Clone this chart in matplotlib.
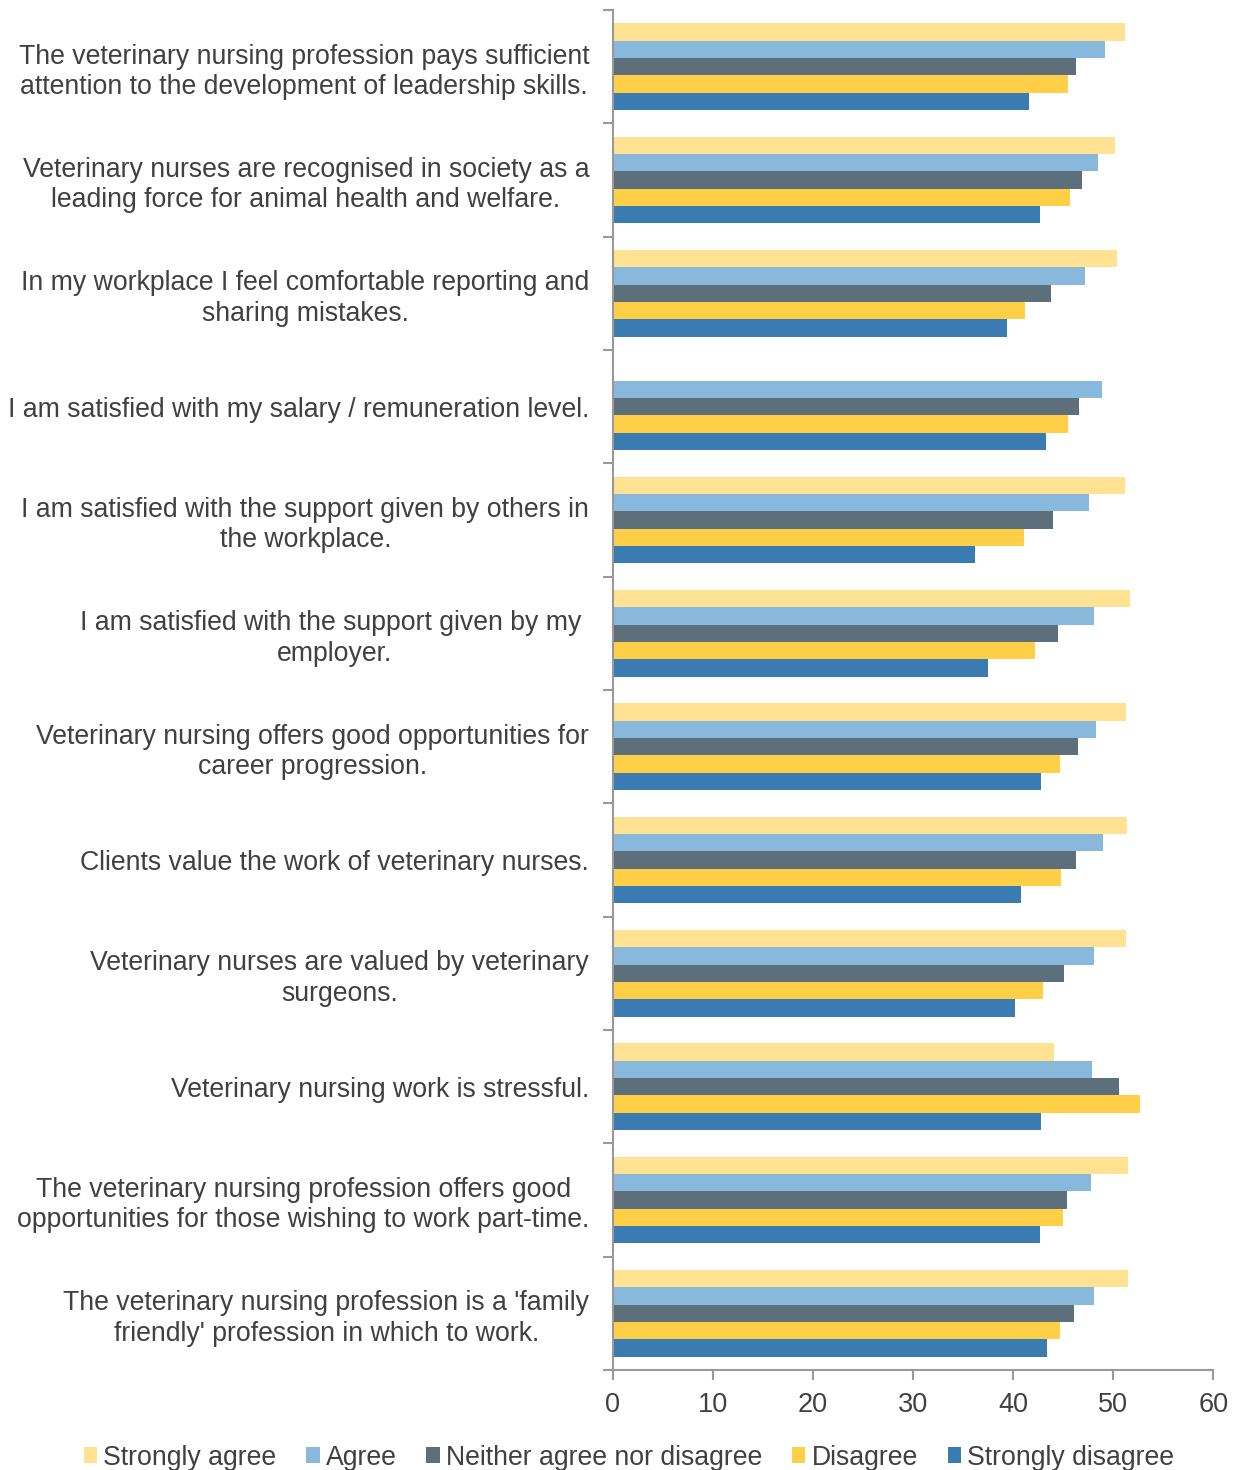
import matplotlib.pyplot as plt
import numpy as np

plt.rcParams['font.family'] = ['Liberation Sans', 'DejaVu Sans']

statements = [
    "The veterinary nursing profession pays sufficient\nattention to the development of leadership skills.",
    "Veterinary nurses are recognised in society as a\nleading force for animal health and welfare.",
    "In my workplace I feel comfortable reporting and\nsharing mistakes.",
    "I am satisfied with my salary / remuneration level.",
    "I am satisfied with the support given by others in\nthe workplace.",
    "I am satisfied with the support given by my \nemployer.",
    "Veterinary nursing offers good opportunities for\ncareer progression.",
    "Clients value the work of veterinary nurses.",
    "Veterinary nurses are valued by veterinary\nsurgeons.",
    "Veterinary nursing work is stressful.",
    "The veterinary nursing profession offers good\nopportunities for those wishing to work part-time.",
    "The veterinary nursing profession is a 'family\nfriendly' profession in which to work.",
]

series_names = ["Strongly agree", "Agree", "Neither agree nor disagree",
                "Disagree", "Strongly disagree"]

strongly_agree = [51.2, 50.2, 50.4, 0.0, 51.2, 51.7, 51.3, 51.4, 51.3, 44.1, 51.5, 51.5]
agree = [49.2, 48.5, 47.2, 48.9, 47.6, 48.1, 48.3, 49.0, 48.1, 47.9, 47.8, 48.1]
neither = [46.3, 46.9, 43.8, 46.6, 44.0, 44.5, 46.5, 46.3, 45.1, 50.6, 45.4, 46.1]
disagree = [45.5, 45.7, 41.2, 45.5, 41.1, 42.2, 44.7, 44.8, 43.0, 52.7, 45.0, 44.7]
strongly_disagree = [41.6, 42.7, 39.4, 43.3, 36.2, 37.5, 42.8, 40.8, 40.2, 42.8, 42.7, 43.4]

colors = ["#FFE393", "#88B9DD", "#5C6F7B", "#FFCF48", "#3A7BB1"]

fig = plt.figure(figsize=(12.38, 14.7), dpi=100)
ax = fig.add_axes([0.495, 0.068, 0.485, 0.9252])

y = np.arange(len(statements))
h = 0.153
values = [strongly_agree, agree, neither, disagree, strongly_disagree]
for i, (name, vals, c) in enumerate(zip(series_names, values, colors)):
    ax.barh(y - 2 * h + i * h, vals, height=h, color=c, label=name)

ax.set_ylim(len(statements) - 0.5, -0.5)
ax.set_xlim(0, 60)
ax.set_xticks(range(0, 61, 10))
# group separators as major ticks, statements as minor tick labels
ax.set_yticks(np.arange(len(statements) + 1) - 0.5, minor=False)
ax.set_yticklabels([])
ax.set_yticks(y, minor=True)
ax.set_yticklabels(statements, minor=True)
ax.tick_params(axis='y', which='minor', length=0, pad=17, labelsize=19.2, labelcolor='#404040')
ax.tick_params(axis='y', which='major', length=7, width=1.5, color='#999999')
ax.tick_params(axis='x', length=7, width=1.5, color='#999999', labelsize=19.5,
               labelcolor='#404040', pad=9)
for lab in ax.get_yticklabels(minor=True):
    lab.set_multialignment('center')
    lab.set_linespacing(1.22)

for side in ['top', 'right']:
    ax.spines[side].set_visible(False)
for side in ['left', 'bottom']:
    ax.spines[side].set_color('#999999')
    ax.spines[side].set_linewidth(1.5)

fig.legend(loc='center', bbox_to_anchor=(0.508, 0.0085), ncol=5, frameon=False,
           fontsize=19.2, handlelength=0.5, handleheight=0.5, handletextpad=0.23,
           columnspacing=1.12, labelcolor='#404040')

fig.savefig('out.png', dpi=100)
